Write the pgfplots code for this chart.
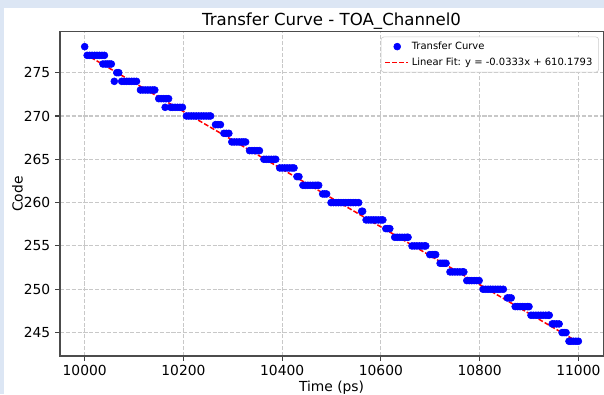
\documentclass[border=0pt]{standalone}
\usepackage{pgfplots}
\pgfplotsset{compat=1.18}
\usepackage{pgfplotstable}
\usepackage{fontspec}
\setmainfont{DejaVu Sans}
\definecolor{pagebg}{HTML}{DCE6F4}
\definecolor{gridgray}{HTML}{C8C8C8}
\definecolor{mplblue}{HTML}{0000FF}
\definecolor{mplred}{HTML}{FF0000}

% measured codes versus time
\pgfplotstableread{
t code
10000 278
10005 277
10010 277
10015 277
10020 277
10025 277
10030 277
10035 277
10037 276
10040 277
10042 276
10046 276
10050 276
10054 276
10060 274
10065 275
10069 275
10075 274
10080 274
10085 274
10090 274
10095 274
10100 274
10105 274
10113 273
10118 273
10123 273
10128 273
10133 273
10138 273
10142 273
10150 272
10155 272
10160 272
10163 271
10165 272
10170 272
10174 271
10178 271
10183 271
10188 271
10193 271
10198 271
10206 270
10211 270
10216 270
10221 270
10226 270
10231 270
10236 270
10241 270
10246 270
10251 270
10255 270
10265 269
10270 269
10275 269
10282 268
10287 268
10292 268
10298 267
10303 267
10308 267
10313 267
10318 267
10322 267
10326 267
10334 266
10339 266
10344 266
10349 266
10354 266
10363 265
10368 265
10373 265
10378 265
10383 265
10387 265
10395 264
10400 264
10405 264
10410 264
10415 264
10420 264
10424 264
10430 263
10434 263
10442 262
10447 262
10452 262
10457 262
10462 262
10467 262
10471 262
10474 262
10482 261
10486 261
10490 261
10499 260
10504 260
10509 260
10514 260
10519 260
10524 260
10529 260
10534 260
10539 260
10544 260
10549 260
10555 260
10561 259
10563 259
10570 258
10575 258
10580 258
10585 258
10590 258
10595 258
10600 258
10604 258
10610 257
10614 257
10618 257
10628 256
10633 256
10638 256
10643 256
10648 256
10653 256
10655 256
10663 255
10668 255
10673 255
10678 255
10683 255
10688 255
10691 255
10699 254
10704 254
10708 254
10711 254
10720 253
10724 253
10728 253
10732 253
10740 252
10745 252
10750 252
10755 252
10760 252
10765 252
10768 252
10774 251
10779 251
10784 251
10789 251
10794 251
10799 251
10807 250
10812 250
10817 250
10822 250
10827 250
10832 250
10837 250
10842 250
10848 250
10856 249
10860 249
10864 249
10872 248
10877 248
10882 248
10887 248
10892 248
10897 248
10900 248
10904 247
10909 247
10914 247
10919 247
10924 247
10929 247
10934 247
10939 247
10941 247
10947 246
10951 246
10956 246
10961 246
10967 245
10971 245
10975 245
10981 244
10985 244
10990 244
10995 244
11000 244
}\transfer

% end points of the fitted line y = -0.0333x + 610.1793
\pgfplotstableread{
t code
10000 277.1793
11000 243.8793
}\fitline

\begin{document}
\begin{tikzpicture}
\fill[pagebg] (-43.2bp,-27.4bp) rectangle (391.68bp,256.3bp);
\fill[white] (-40.32bp,-27.4bp) rectangle (391.68bp,250.54bp);
\begin{axis}[
  name=ax,
  at={(0,0)}, anchor=south west,
  scale only axis, width=391bp, height=233.3bp,
  xmin=9950, xmax=11050, ymin=242.3, ymax=279.7,
  xtick={10000,10200,...,11000}, ytick={245,250,...,275},
  scaled x ticks=false, scaled y ticks=false,
  xtick pos=left, ytick pos=left,
  tick align=outside, major tick length=3.5pt,
  tick style={black!75, line width=0.8pt},
  axis line style={black!70, line width=0.8pt},
  grid=major,
  major grid style={gridgray, line width=0.8pt, dash pattern=on 2.96pt off 1.28pt},
  /pgf/number format/assume math mode=true,
  /pgf/number format/set thousands separator={},
  ticklabel style={font=\fontsize{10}{12}\selectfont},
  xticklabel style={/pgf/number format/fixed, /pgf/number format/precision=0},
  xlabel={Time (ps)},
  xlabel style={font=\fontsize{10}{12}\selectfont, at={(axis description cs:0.5,-0.097)}, anchor=center},
  ylabel={Code},
  ylabel style={font=\fontsize{10}{12}\selectfont, at={(axis description cs:-0.0783,0.5)}, anchor=center},
  legend cell align=left,
  legend style={at={(axis description cs:1,1)}, anchor=north east, xshift=-3bp, yshift=-3.4bp,
    draw=black!20, rounded corners=2pt, fill=white,
    font=\fontsize{7.2}{9}\selectfont, inner xsep=2.5pt, inner ysep=1.5pt, row sep=0.5pt},
]
\addplot[mplblue, only marks, mark=*, mark size=2.5bp]
  table[x=t, y=code] {\transfer};
\addlegendentry{Transfer Curve}
\addplot[mplred, line width=1.1pt, dash pattern=on 3.5pt off 1.5pt,
  legend image code/.code={\draw[mplred, line width=1.2pt, dash pattern=on 3.5pt off 1.5pt, sharp corners] (0cm,0cm) -- (0.58cm,0cm);}]
  table[x=t, y=code] {\fitline};
\addlegendentry{Linear Fit: y = -0.0333x + 610.1793}
\end{axis}
\node[anchor=base, font=\fontsize{12}{14}\selectfont] at ([yshift=4.5bp]ax.north) {Transfer Curve - TOA\_Channel0};
\pgfresetboundingbox
\path (-43.2bp,-27.4bp) rectangle (391.68bp,256.3bp);
\end{tikzpicture}
\end{document}
